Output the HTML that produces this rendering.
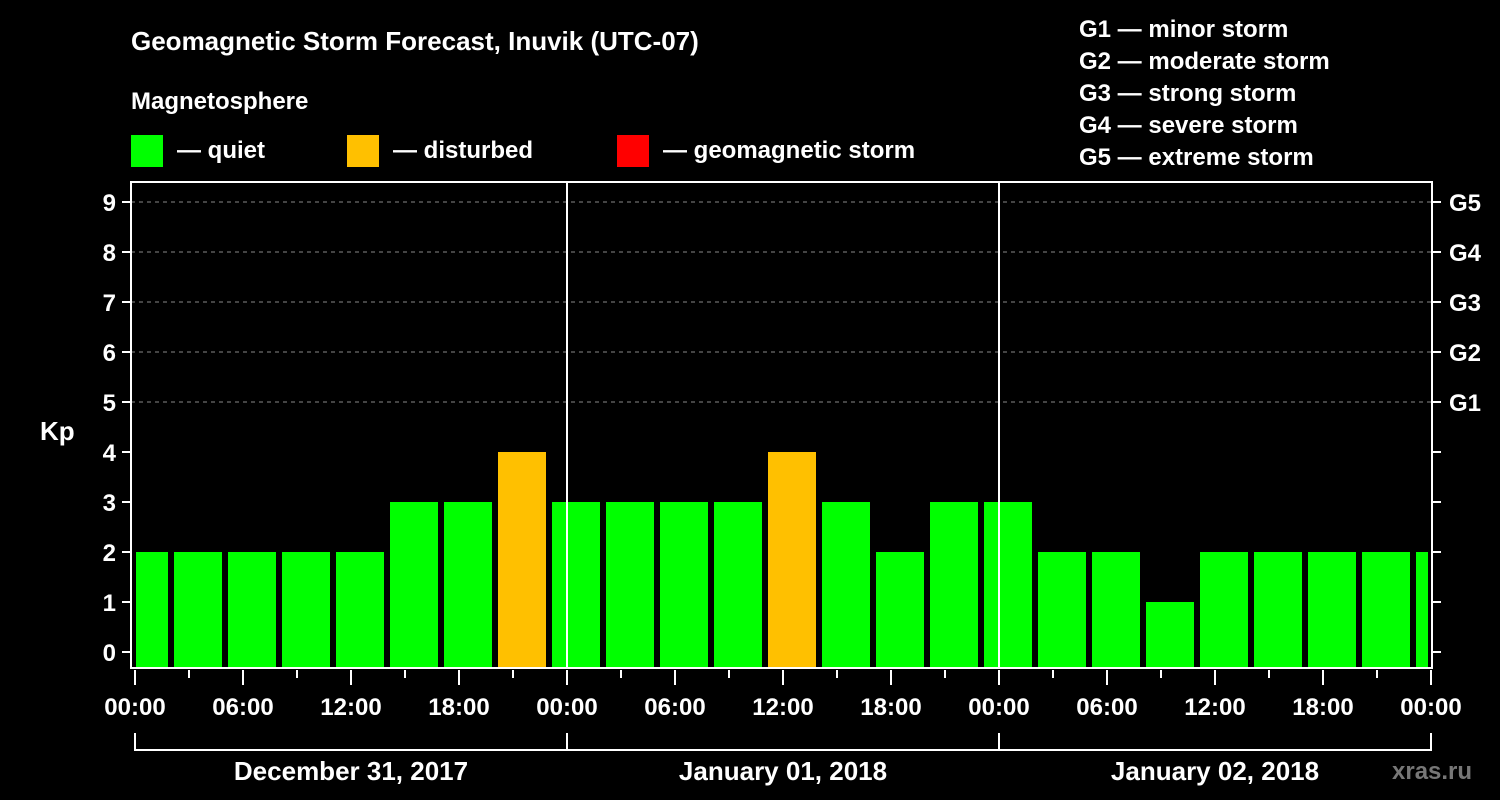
<!DOCTYPE html>
<html><head><meta charset="utf-8"><style>
html,body{margin:0;padding:0;background:#000;}
svg{display:block;font-family:"Liberation Sans",sans-serif;font-weight:bold;}
</style></head><body>
<svg width="1500" height="800" viewBox="0 0 1500 800">
<rect x="0" y="0" width="1500" height="800" fill="#000"/>
<text x="131" y="50" fill="#fff" font-size="26">Geomagnetic Storm Forecast, Inuvik (UTC-07)</text>
<text x="131" y="109" fill="#fff" font-size="24">Magnetosphere</text>
<g><rect x="131" y="135" width="32" height="32" fill="#00ff00"/><text x="177" y="158" fill="#fff" font-size="24">— quiet</text></g>
<g><rect x="347" y="135" width="32" height="32" fill="#ffc000"/><text x="393" y="158" fill="#fff" font-size="24">— disturbed</text></g>
<g><rect x="617" y="135" width="32" height="32" fill="#ff0000"/><text x="663" y="158" fill="#fff" font-size="24">— geomagnetic storm</text></g>
<g fill="#fff" font-size="24">
<text x="1079" y="37">G1 — minor storm</text>
<text x="1079" y="69">G2 — moderate storm</text>
<text x="1079" y="101">G3 — strong storm</text>
<text x="1079" y="133">G4 — severe storm</text>
<text x="1079" y="165">G5 — extreme storm</text>
</g>
<text x="40" y="440" fill="#fff" font-size="26">Kp</text>
<text x="1392" y="779" fill="#777" font-size="24">xras.ru</text>
<g id="grid"></g><g id="bars"></g><g id="axes"></g>
</svg>
<script>
const barStartHours=[-1,2,5,8,11,14,17,20,23,26,29,32,35,38,41,44,47,50,53,56,59,62,65,68,71];
const kpValues=[2,2,2,2,2,3,3,4,3,3,3,3,4,3,2,3,3,2,2,1,2,2,2,2,2];
const yTicks=[0,1,2,3,4,5,6,7,8,9];
const gLabels=["G1","G2","G3","G4","G5"];
const gLevels=[5,6,7,8,9];
const xTickLabels=["00:00","06:00","12:00","18:00","00:00","06:00","12:00","18:00","00:00","06:00","12:00","18:00","00:00"];
const dayLabels=["December 31, 2017","January 01, 2018","January 02, 2018"];
const NS="http://www.w3.org/2000/svg";
const X=h=>135+h*18, Y=k=>652-50*k;
const L=131,R=1432,T=182,B=668;
function mk(t,a,p){const e=document.createElementNS(NS,t);for(const k in a)e.setAttribute(k,a[k]);p.appendChild(e);return e;}
const grid=document.getElementById('grid'),bars=document.getElementById('bars'),axes=document.getElementById('axes');
gLevels.forEach(k=>{const l=mk('line',{x1:L,x2:R,y1:Y(k),y2:Y(k),stroke:'#888','stroke-dasharray':'4,4','stroke-width':1},grid);

});
barStartHours.forEach((h,i)=>{const v=kpValues[i];
let x0=Math.max(X(h)+3,136),x1=Math.min(X(h+3)-3,1428);
const c=v>=5?'#ff0000':(v>=4?'#ffc000':'#00ff00');
const r=mk('rect',{x:x0,y:Y(v),width:x1-x0,height:B-Y(v),fill:c},bars);

});
[1,2].forEach(d=>{const l=mk('line',{x1:X(24*d),x2:X(24*d),y1:T,y2:B,stroke:'#fff','stroke-width':2},axes);

});
const frame=mk('path',{d:`M${L},${T}H${R}V${B}H${L}Z`,fill:'none',stroke:'#fff','stroke-width':2},axes);


yTicks.forEach(k=>{mk('line',{x1:122,x2:L,y1:Y(k),y2:Y(k),stroke:'#fff','stroke-width':2},axes);
mk('line',{x1:R,x2:1441,y1:Y(k),y2:Y(k),stroke:'#fff','stroke-width':2},axes);
const t=mk('text',{x:116,y:Y(k)+9,fill:'#fff','font-size':24,'text-anchor':'end'},axes);t.textContent=k;

});
gLabels.forEach((g,i)=>{const t=mk('text',{x:1449,y:Y(gLevels[i])+9,fill:'#fff','font-size':24},axes);t.textContent=g;

});
for(let h=0;h<=72;h+=3){const lng=h%6==0;mk('line',{x1:X(h),x2:X(h),y1:B+2,y2:lng?B+17:B+10,stroke:'#fff','stroke-width':2},axes);}
xTickLabels.forEach((s,i)=>{const t=mk('text',{x:X(i*6),y:715,fill:'#fff','font-size':24,'text-anchor':'middle'},axes);t.textContent=s;

});
const br=mk('path',{d:`M${X(0)},733V750H${X(72)}V733M${X(24)},733V750M${X(48)},733V750`,fill:'none',stroke:'#fff','stroke-width':2},axes);


dayLabels.forEach((s,i)=>{const t=mk('text',{x:X(24*i+12),y:780,fill:'#fff','font-size':26,'text-anchor':'middle'},axes);t.textContent=s;

});
</script>
</body></html>
